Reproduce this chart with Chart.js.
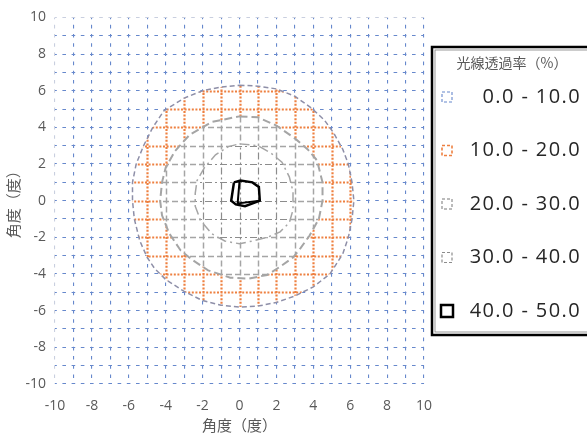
<!DOCTYPE html>
<html>
<head>
<meta charset="utf-8">
<script src="https://cdn.jsdelivr.net/npm/chart.js@4.4.1/dist/chart.umd.min.js"></script>
<style>
  body { margin: 0; background: #fff; }
  #wrap { width: 587px; height: 438px; position: relative; }
</style>
</head>
<body>
<div id="wrap"><canvas id="contourChart"></canvas></div>
<script>
// axis range, grid every 1 degree, labels every 2
const axisMin = -10;
const axisMax = 10;
const gridValues = [-10, -9, -8, -7, -6, -5, -4, -3, -2, -1, 0, 1, 2, 3, 4, 5, 6, 7, 8, 9, 10];
const tickLabels = [-10, -8, -6, -4, -2, 0, 2, 4, 6, 8, 10];

const legendTitle = '光線透過率（%）';
const bandLabels = ['0.0 - 10.0', '10.0 - 20.0', '20.0 - 30.0', '30.0 - 40.0', '40.0 - 50.0'];

// contour lines, [x, y] in degrees
const contour10 = [[0, 6.3], [1, 6.25], [2, 6.1], [3, 5.7], [3.9, 5.05], [4.6, 4.4], [5.1, 3.7], [5.6, 2.8],
  [5.9, 2], [6.1, 1], [6.2, 0], [6.1, -1], [5.9, -2], [5.6, -2.9], [4.9, -4], [4, -4.7], [3, -5.2],
  [2, -5.55], [1, -5.75], [0, -5.8], [-1, -5.7], [-2, -5.45], [-3, -4.95], [-4, -4.3], [-4.6, -3.7],
  [-5, -3.1], [-5.4, -2.2], [-5.7, -1], [-5.8, 0], [-5.8, 1], [-5.6, 2], [-5.2, 3], [-4.7, 4],
  [-4.1, 4.9], [-3, 5.6], [-2, 6], [-1, 6.2], [0, 6.3]];
const contour20 = [[0, 4.6], [1, 4.55], [2, 4.1], [3, 3.4], [3.7, 2.8], [4.2, 2.2], [4.5, 1], [4.5, 0],
  [4.3, -1], [3.8, -1.9], [3.3, -2.6], [2.9, -3.1], [2.2, -3.6], [1.5, -4.05], [0.5, -4.25], [-0.5, -4.2],
  [-1.7, -3.8], [-2.6, -3.2], [-3.2, -2.7], [-3.8, -1.8], [-4.2, -0.8], [-4.3, 0], [-4.2, 1], [-4, 1.8],
  [-3.5, 2.7], [-2.7, 3.6], [-1.5, 4.3], [0, 4.6]];
const contour30 = [[0, 3.1], [1, 3], [1.7, 2.6], [2.3, 2.1], [2.7, 1.3], [2.9, 0.5], [2.9, -0.5], [2.7, -1.2],
  [2.2, -1.7], [1.5, -2], [0.7, -2.2], [0, -2.35], [-0.8, -2.2], [-1.5, -1.8], [-2.1, -1.1], [-2.4, -0.3],
  [-2.4, 0.4], [-2.3, 1.1], [-1.9, 1.8], [-1.3, 2.5], [-0.6, 2.95], [0, 3.1]];
const contour40 = [[-0.3, 1], [0.05, 1.1], [0.7, 1], [1.05, 0.75], [1.1, 0], [0.3, -0.3], [-0.2, -0.2],
  [-0.45, 0], [-0.3, 1]];
const contour40Inner = [[0, 1.05], [-0.1, -0.15], [1.1, 0]];

// line style of each band (0-10, 10-20, 20-30, 30-40, 40-50)
const bandStyles = [
  { color: '#6688cc', dash: [3.6, 5.6], offset: 1.8, width: 1.1 },
  { color: '#ee8040', dash: [2, 1.6], offset: 0, width: 2.2 },
  { color: '#a5a5a5', dash: [6, 3], offset: 0, width: 1.5 },
  { color: '#8c8c8c', dash: [7, 3, 2, 3], offset: 0, width: 1.2 },
  { color: '#000000', dash: [], offset: 0, width: 2.5 }
];

const textFont = "'Open Sans', 'Noto Sans CJK JP', sans-serif";
const cjkFont = "'Noto Sans CJK JP', sans-serif";

function toPoints(arr) {
  return arr.map(p => ({ x: p[0], y: p[1] }));
}

// redraw the grid inside each contour with that band's line style
const bandGridPlugin = {
  id: 'bandGrid',
  beforeDatasetsDraw(chart) {
    const { ctx, chartArea, scales: { x, y } } = chart;
    const regions = [contour10, contour20, contour30];
    regions.forEach((pts, i) => {
      const style = bandStyles[i + 1];
      ctx.save();
      ctx.beginPath();
      pts.forEach((p, j) => {
        const px = x.getPixelForValue(p[0]);
        const py = y.getPixelForValue(p[1]);
        if (j === 0) ctx.moveTo(px, py); else ctx.lineTo(px, py);
      });
      ctx.closePath();
      ctx.clip();
      ctx.fillStyle = '#fff';
      ctx.fillRect(chartArea.left, chartArea.top, chartArea.width, chartArea.height);
      ctx.strokeStyle = style.color;
      ctx.lineWidth = style.width;
      ctx.setLineDash(style.dash);
      ctx.beginPath();
      gridValues.forEach(v => {
        const px = Math.round(x.getPixelForValue(v)) + 0.5;
        const py = Math.round(y.getPixelForValue(v)) + 0.5;
        ctx.moveTo(px, chartArea.top);
        ctx.lineTo(px, chartArea.bottom);
        ctx.moveTo(chartArea.left, py);
        ctx.lineTo(chartArea.right, py);
      });
      ctx.stroke();
      ctx.restore();
    });
  }
};

// boxed legend on the right
const bandLegendPlugin = {
  id: 'bandLegend',
  afterDraw(chart) {
    const ctx = chart.ctx;
    const left = chart.chartArea.right + 8;
    const top = 47;
    const bottom = 335;
    ctx.save();
    ctx.strokeStyle = '#000';
    ctx.lineWidth = 2.5;
    ctx.strokeRect(left, top, 200, bottom - top);
    ctx.strokeStyle = '#7f7f7f';
    ctx.lineWidth = 0.8;
    ctx.strokeRect(left + 3, top + 3, 200, bottom - top - 6);

    ctx.fillStyle = '#595959';
    ctx.font = '14px ' + cjkFont;
    ctx.textAlign = 'center';
    ctx.textBaseline = 'middle';
    ctx.fillText(legendTitle, left + 80, top + 16);

    bandLabels.forEach((label, i) => {
      const style = bandStyles[i];
      const cy = 97 + i * 53.5;
      const size = i === 4 ? 12 : 10;
      ctx.strokeStyle = style.color;
      ctx.lineWidth = i === 4 ? 2.5 : Math.min(style.width, 1.6);
      ctx.setLineDash(i === 4 ? [] : [3, 2]);
      ctx.strokeRect(left + 15 - size / 2, cy - size / 2, size, size);
      ctx.setLineDash([]);
      ctx.fillStyle = '#262626';
      ctx.font = '20px ' + textFont;
      ctx.letterSpacing = '1.4px';
      ctx.textAlign = 'right';
      ctx.fillText(label, 581, cy);
      ctx.letterSpacing = '0px';
    });
    ctx.restore();
  }
};

function contourDataset(label, arr, color, dash, width) {
  return {
    label: label,
    data: toPoints(arr),
    showLine: true,
    borderColor: color,
    borderDash: dash,
    borderWidth: width,
    pointRadius: 0,
    tension: 0,
    fill: false
  };
}

function gridColor(ctx) {
  const edge = ctx.tick && ((ctx.scale.axis === 'y' && ctx.tick.value === axisMax) ||
    (ctx.scale.axis === 'x' && ctx.tick.value === axisMin));
  return edge ? '#c9cfdf' : bandStyles[0].color;
}

function axisOptions(isY) {
  return {
    type: 'linear',
    min: axisMin,
    max: axisMax,
    afterBuildTicks(scale) {
      scale.ticks = gridValues.map(v => ({ value: v }));
    },
    afterFit(scale) {
      if (isY) scale.width = 55; else scale.height = 54;
    },
    ticks: {
      autoSkip: false,
      maxRotation: 0,
      padding: isY ? 9 : 14,
      color: '#595959',
      font: { family: textFont, size: 14 },
      callback: v => tickLabels.includes(v) ? String(v) : ''
    },
    grid: {
      color: gridColor,
      lineWidth: bandStyles[0].width,
      drawTicks: false
    },
    border: { display: false, dash: bandStyles[0].dash, dashOffset: bandStyles[0].offset },
    title: {
      display: true,
      text: '角度（度）',
      color: '#595959',
      font: { family: cjkFont, size: 15 },
      padding: isY ? { top: 4, bottom: 0 } : { top: 0, bottom: 4 }
    }
  };
}

document.addEventListener('DOMContentLoaded', function() {
  const ctx = document.getElementById('contourChart').getContext('2d');

  new Chart(ctx, {
    type: 'scatter',
    data: {
      datasets: [
        contourDataset('10', contour10, '#8e8fa8', [5, 3], 1.5),
        contourDataset('20', contour20, '#a5a5a5', [8, 4], 2),
        contourDataset('30', contour30, '#a5a5a5', [10, 4, 2, 4], 1.5),
        contourDataset('40', contour40, '#000000', [], 2.5),
        contourDataset('40b', contour40Inner, '#000000', [], 2)
      ]
    },
    options: {
      responsive: true,
      maintainAspectRatio: false,
      animation: false,
      layout: { padding: { left: 0, right: 163, top: 16, bottom: 0 } },
      scales: {
        x: axisOptions(false),
        y: axisOptions(true)
      },
      plugins: {
        legend: { display: false },
        tooltip: { enabled: false }
      }
    },
    plugins: [bandGridPlugin, bandLegendPlugin]
  });
});
</script>
</body>
</html>
